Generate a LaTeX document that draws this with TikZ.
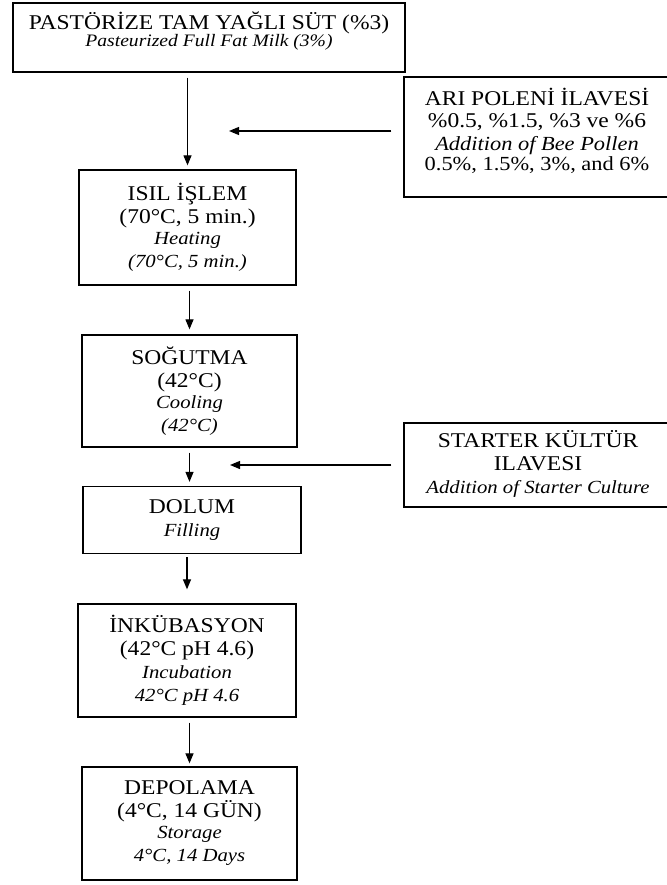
\documentclass[tikz,border=0pt]{standalone}
\usepackage{fontspec}
\setmainfont{Liberation Serif}[FakeStretch=1.12]
\usetikzlibrary{arrows.meta}
\newcommand{\up}{\fontsize{21}{23}\selectfont}
\newcommand{\en}{\fontsize{18.5}{21}\selectfont\itshape}
\tikzset{
    > = {Stealth[inset=0pt, length=10pt, width=8pt]},
    box/.style = {draw, line width=1.3pt, align=center, inner sep=2pt, font=\up},
    frame/.style = {draw, line width=1.3pt, inner sep=0pt},
    words/.style = {align=center, inner sep=0pt, font=\up},
    flow/.style = {->, line width=1.2pt}
}

\begin{document}
\begin{tikzpicture}[x=1pt, y=-1pt]
    \useasboundingbox (0,0) rectangle (666,885);

    % boxes cut by the right edge, texts set apart
    \node[frame, minimum width=392, minimum height=69] (milkbox) at (209,37.5) {};
    \node[words] (milk) at (209,31)
        {PASTÖRİZE TAM YAĞLI SÜT (\%3)\\[-6pt]{\fontsize{17.5}{21}\selectfont\itshape Pasteurized Full Fat Milk (3\%)}};
    \node[frame, minimum width=300, minimum height=120] (pollenbox) at (554,137) {};
    \node[words] (pollen) at (537,131)
        {ARI POLENİ İLAVESİ\\[-1pt]\%0.5, \%1.5, \%3 ve \%6\\[0pt]{\fontsize{20}{21}\selectfont\itshape Addition of Bee Pollen}\\[-3pt]{\fontsize{20}{22}\selectfont 0.5\%, 1.5\%, 3\%, and 6\%}};
    \node[frame, minimum width=300, minimum height=84] (starterbox) at (554,465) {};
    \node[words] (starter) at (538,464)
        {STARTER KÜLTÜR\\ILAVESI\\{\en Addition of Starter Culture}};

    \node[box, minimum width=217, minimum height=115] (isil) at (187.5,227.5)
        {ISIL İŞLEM\\(70°C, 5 min.)\\[-2pt]{\en Heating}\\{\en (70°C, 5 min.)}};
    \node[box, minimum width=215, minimum height=112] (cool) at (189.5,391)
        {SOĞUTMA\\(42°C)\\[-2pt]{\en Cooling}\\{\en (42°C)}};
    \node[box, minimum width=218, minimum height=67] (fill) at (192,520)
        {DOLUM\\{\en Filling}};
    \node[box, minimum width=218, minimum height=113] (incub) at (187,660.5)
        {İNKÜBASYON\\(42°C pH 4.6)\\{\en Incubation}\\{\en 42°C pH 4.6}};
    \node[box, minimum width=215, minimum height=113] (store) at (189.5,823.5)
        {DEPOLAMA\\(4°C, 14 GÜN)\\[-2pt]{\en Storage}\\{\en 4°C, 14 Days}};

    \coordinate (pollenin) at (229,131);
    \coordinate (starterin) at (230,465);

    \draw[flow] ([yshift=-5pt]milkbox.south -| isil.north) -- ([yshift=4pt]isil.north);
    \draw[flow] ([xshift=-12pt]pollenbox.west |- pollenin) -- (pollenin);
    \draw[flow] ([yshift=-5pt]isil.south -| cool.north) -- ([yshift=5pt]cool.north);
    \draw[flow] ([yshift=-5pt]cool.south) -- ([yshift=4pt]cool.south |- fill.north);
    \draw[flow] ([xshift=-12pt]starterbox.west |- starterin) -- (starterin);
    \draw[flow] ([yshift=-3pt]fill.south -| incub.north) -- ([yshift=14pt]incub.north);
    \draw[flow] ([yshift=-5pt]incub.south -| store.north) -- ([yshift=3pt]store.north);
\end{tikzpicture}
\end{document}
